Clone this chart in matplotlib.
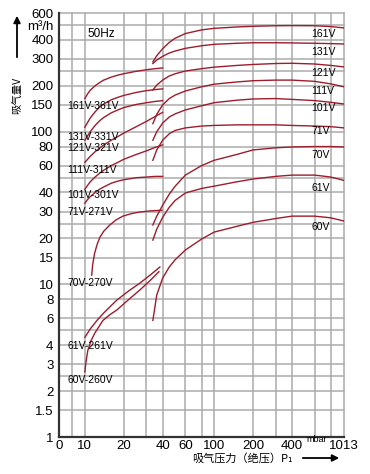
import numpy as np
import matplotlib
matplotlib.use("Agg")
import matplotlib.pyplot as plt
from matplotlib.patches import FancyArrowPatch

plt.rcParams['font.family'] = ['Liberation Sans', 'Noto Sans CJK SC', 'DejaVu Sans']

# axis ticks and grid (mbar / m3/h)
x_ticks = [0, 10, 20, 40, 60, 100, 200, 400, 1013]
x_tick_labels = ['0', '10', '20', '40', '60', '100', '200', '400', '1013']
x_grid = [5, 10, 20, 30, 40, 60, 80, 100, 200, 300, 400, 600, 800, 1013]
y_ticks = [1, 1.5, 2, 3, 4, 6, 8, 10, 15, 20, 30, 40, 60, 80, 100, 150, 200, 300, 400, 500, 600]
y_tick_labels = ['1', '1.5', '2', '3', '4', '6', '8', '10', '15', '20', '30', '40', '60', '80',
                 '100', '150', '200', '300', '400', 'm³/h', '600']
y_grid = [1.5, 2, 2.5, 3, 4, 5, 6, 8, 10, 15, 20, 25, 30, 40, 50, 60, 80, 100, 150, 200,
          250, 300, 400, 500, 600]

# combinations (left branch)
c_x = [10, 10.5, 11, 12, 13, 14, 16, 18, 20, 25, 30, 35, 40]
c161_y = [165, 177, 187, 200, 210, 218, 228, 235, 240, 249, 255, 259, 262]
c131_y = [107, 115, 123, 135, 145, 152, 162, 168, 173, 181, 186, 189, 191]
c121_y = [88, 94, 100, 110, 118, 124, 133, 139, 144, 151, 155, 158, 160]
c111_y = [63, 66, 69, 74, 78, 82, 88, 93, 98, 108, 117, 126, 134]
c101_y = [42, 44.5, 47, 50.5, 53.5, 56, 60, 63, 66, 71, 75, 79, 82]
c71_y = [34, 36, 37.5, 40, 42, 43.5, 46, 47.5, 48.5, 50, 50.5, 51, 51]
c70_x = [11.3, 11.5, 11.9, 12.5, 13.1, 14, 15.6, 17.5, 19.7, 23, 26.7, 32, 39.5]
c70_y = [11.5, 13.5, 16, 18.5, 20.4, 22.3, 24.5, 26.5, 28, 29.1, 29.8, 30.3, 30.6]
c61_x = [10, 11, 12.4, 14, 17.7, 22, 26.7, 32, 38.1]
c61_y = [4.5, 5.1, 5.8, 6.5, 7.9, 9.1, 10.2, 11.5, 13]
c60_x = [10, 10.2, 10.55, 11.2, 11.95, 13.8, 15.5, 17.7, 22, 26.7, 32, 37.4]
c60_y = [2.67, 3.1, 3.7, 4.3, 4.8, 5.8, 6.3, 6.8, 8, 9.2, 10.6, 12.1]

# single pumps (right branch)
p_x = [33.6, 36, 40, 45, 50, 60, 80, 100, 150, 200, 300, 400, 600, 800, 1013]
p161_y = [287, 315, 350, 385, 410, 440, 465, 476, 486, 491, 495, 496, 495, 489, 479]
p131_y = [280, 295, 312, 328, 338, 352, 366, 374, 380, 383, 383, 382, 380, 378, 376]
p121_y = [188, 202, 218, 232, 240, 250, 259, 265, 272, 276, 280, 281, 278, 272, 266]
p111_y = [113, 130, 150, 165, 174, 185, 197, 205, 212, 216, 218, 218, 214, 206, 197]
p101_y = [88, 100, 114, 125, 131, 139, 148, 155, 161, 164, 165, 163, 160, 156, 152]
p71_y = [65, 76, 88, 97, 102, 106, 109, 110, 111, 111, 111, 110, 109, 108, 106]
p70_y = [24.5, 28, 33, 39, 44, 52, 60, 65, 71, 76, 78.5, 79.5, 80, 80, 79.5]
p61_y = [19.5, 23, 27.5, 32, 35.5, 39.7, 42.5, 44, 47, 49, 51, 52, 52, 50.5, 48]
p60_y = [5.8, 8.5, 11, 13, 14.5, 16.8, 19.8, 22, 24, 25.5, 27, 28, 28, 27.3, 26]

left_curves = [(c_x, c161_y), (c_x, c131_y), (c_x, c121_y), (c_x, c111_y),
               (c_x, c101_y), (c_x, c71_y), (c70_x, c70_y), (c61_x, c61_y), (c60_x, c60_y)]
right_curves = [(p_x, p161_y), (p_x, p131_y), (p_x, p121_y), (p_x, p111_y), (p_x, p101_y),
                (p_x, p71_y), (p_x, p70_y), (p_x, p61_y), (p_x, p60_y)]

left_labels = ['161V-361V', '131V-331V', '121V-321V', '111V-311V', '101V-301V',
               '71V-271V', '70V-270V', '61V-261V', '60V-260V']
left_label_y = [147, 92, 78, 56, 38.6, 30, 10.2, 3.95, 2.36]
right_labels = ['161V', '131V', '121V', '111V', '101V', '71V', '70V', '61V', '60V']
right_label_y = [437, 333, 243, 185, 143, 101, 70, 43, 23.7]


def fwd(x):
    x = np.asarray(x, float)
    return np.where(x < 10, x / 50.0, 0.2 + np.log10(np.maximum(x, 10) / 10))


def inv(y):
    y = np.asarray(y, float)
    return np.where(y < 0.2, y * 50.0, 10 * 10 ** (y - 0.2))


fig = plt.figure(figsize=(3.7, 4.74), dpi=100)
ax = fig.add_axes([59 / 370, 1 - 437 / 474, (344 - 59) / 370, (437 - 13) / 474])
ax.set_xscale('function', functions=(fwd, inv))
ax.set_yscale('log')
ax.set_xlim(0, 1013)
ax.set_ylim(1, 600)

grid_col = '#ababab'
for gx in x_grid:
    ax.axvline(gx, color=grid_col, lw=1.1, zorder=1, clip_on=False)
for gy in y_grid:
    ax.axhline(gy, color=grid_col, lw=1.1, zorder=1, clip_on=False)

red = '#9e1c2c'
for xs, ys in left_curves + right_curves:
    ax.plot(xs, ys, color=red, lw=1.0, zorder=3)

ax.set_xticks(x_ticks)
ax.set_xticklabels(x_tick_labels)
ax.set_yticks(y_ticks)
ax.set_yticklabels(y_tick_labels)
ax.minorticks_off()
ax.tick_params(axis='y', length=0, labelsize=9.5, pad=4)
ax.tick_params(axis='x', length=0, labelsize=9.5, pad=2)

for s in ['top', 'right']:
    ax.spines[s].set_visible(False)
for s in ['left', 'bottom']:
    ax.spines[s].set_linewidth(1.6)
    ax.spines[s].set_color('#333333')

for lab, ly in zip(left_labels, left_label_y):
    ax.text(3.1, ly, lab, fontsize=7.5, va='center', ha='left', zorder=4)
for lab, ly in zip(right_labels, right_label_y):
    ax.text(565, ly, lab, fontsize=7.5, va='center', ha='left', zorder=4)
ax.text(10.5, 437, '50Hz', fontsize=8.5, va='center', ha='left')

fig.text(317 / 370, 1 - 440 / 474, 'mbar', fontsize=6.5, ha='center', va='center')
fig.text(242 / 370, 1 - 458 / 474, '吸气压力（绝压）P₁', fontsize=8, ha='center', va='center',
         family=['Noto Sans CJK SC', 'DejaVu Sans'])
fig.add_artist(FancyArrowPatch(
    (300 / 370, 1 - 458 / 474), (342 / 370, 1 - 458 / 474), transform=fig.transFigure,
    arrowstyle='-|>', mutation_scale=10, color='black', lw=1.3))
fig.text(17 / 370, 1 - 95 / 474, '吸气量V', fontsize=7.5, rotation=90, ha='center', va='center',
         family=['Noto Sans CJK SC', 'DejaVu Sans'])
fig.add_artist(FancyArrowPatch(
    (17 / 370, 1 - 60 / 474), (17 / 370, 1 - 13 / 474), transform=fig.transFigure,
    arrowstyle='-|>', mutation_scale=10, color='black', lw=1.3))

fig.savefig('out.png', dpi=100)
